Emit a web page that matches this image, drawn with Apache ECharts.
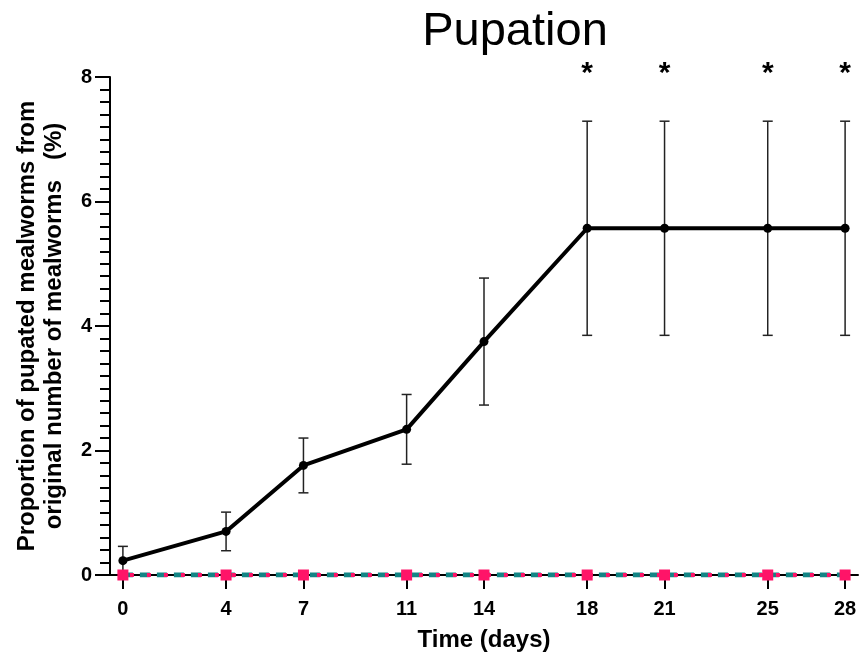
<!DOCTYPE html>
<html>
<head>
<meta charset="utf-8">
<script src="https://cdn.jsdelivr.net/npm/echarts@6/dist/echarts.min.js"></script>
<style>html,body{margin:0;padding:0;background:#fff}#c{width:864px;height:657px}</style>
</head>
<body>
<div id="c"></div>
<script>
const days = [0, 4, 7, 11, 14, 18, 21, 25, 28];
const pupationMean = [0.23, 0.70, 1.76, 2.34, 3.75, 5.57, 5.57, 5.57, 5.57];
const pupationErr = [0.23, 0.31, 0.44, 0.56, 1.02, 1.72, 1.72, 1.72, 1.72];
const controlA = [0, 0, 0, 0, 0, 0, 0, 0, 0];
const controlB = [0, 0, 0, 0, 0, 0, 0, 0, 0];
const starDays = [18, 21, 25, 28];
const starLevel = 8.12;
const yTicks = [0, 2, 4, 6, 8];

const FONT = '"Liberation Sans", Arial, sans-serif';
const chart = echarts.init(document.getElementById('c'), null, {renderer: 'canvas'});

const errData = days.map((d, i) => [d, pupationMean[i] - pupationErr[i], pupationMean[i] + pupationErr[i]]);

chart.setOption({
  animation: false,
  backgroundColor: '#fff',
  title: {
    text: 'Pupation',
    left: 510, top: 4, textAlign: 'center',
    textStyle: {fontFamily: FONT, fontSize: 47, fontWeight: 'normal', color: '#000'}
  },
  grid: {left: 110, right: 6, top: 77, bottom: 81, containLabel: false},
  xAxis: {
    type: 'value', min: -0.5, max: 28.5,
    name: 'Time (days)', nameLocation: 'middle', nameGap: 53,
    nameTextStyle: {fontFamily: FONT, fontSize: 24, fontWeight: 'bold', color: '#000', verticalAlign: 'top'},
    axisLine: {show: true, onZero: false, lineStyle: {color: '#000', width: 2}},
    axisTick: {show: true, length: 14, lineStyle: {color: '#000', width: 2}, customValues: days},
    axisLabel: {margin: 24, fontFamily: FONT, fontSize: 20, fontWeight: 'bold', color: '#000', customValues: days},
    splitLine: {show: false}
  },
  yAxis: {
    type: 'value', min: 0, max: 8, interval: 2,
    name: 'Proportion of pupated mealworms from\noriginal number of mealworms   (%)',
    nameLocation: 'middle', nameGap: 42,
    nameTextStyle: {fontFamily: FONT, fontSize: 24, fontWeight: 'bold', color: '#000', lineHeight: 27},
    axisLine: {show: true, onZero: false, lineStyle: {color: '#000', width: 2}},
    axisTick: {show: true, length: 15, lineStyle: {color: '#000', width: 2}},
    minorTick: {show: true, splitNumber: 10, length: 10, lineStyle: {color: '#000', width: 2}},
    axisLabel: {margin: 18, fontFamily: FONT, fontSize: 20, fontWeight: 'bold', color: '#000',
      customValues: yTicks},
    splitLine: {show: false}, minorSplitLine: {show: false}
  },
  series: [
    {
      type: 'custom', name: 'err', z: 3, clip: false,
      data: errData,
      renderItem: function (params, api) {
        const x = api.coord([api.value(0), 0])[0];
        const lo = api.coord([0, api.value(1)])[1];
        const hi = api.coord([0, api.value(2)])[1];
        const s = {stroke: '#222', lineWidth: 1.5};
        return {type: 'group', children: [
          {type: 'line', shape: {x1: x, y1: lo, x2: x, y2: hi}, style: s},
          {type: 'line', shape: {x1: x - 5, y1: hi, x2: x + 5, y2: hi}, style: s},
          {type: 'line', shape: {x1: x - 5, y1: lo, x2: x + 5, y2: lo}, style: s}
        ]};
      }
    },
    {
      type: 'line', name: 'control A', z: 4,
      data: days.map((d, i) => [d, controlA[i]]),
      symbol: 'none',
      lineStyle: {color: '#138585', width: 5, type: [10, 7]}
    },
    {
      type: 'line', name: 'control B', z: 5,
      data: days.map((d, i) => [d, controlB[i]]),
      symbol: 'rect', symbolSize: 11,
      itemStyle: {color: '#ff1468'},
      lineStyle: {color: '#ff1468', width: 4, type: [4, 13], dashOffset: 10}
    },
    {
      type: 'line', name: 'pupation', z: 6,
      data: days.map((d, i) => [d, pupationMean[i]]),
      symbol: 'circle', symbolSize: 9,
      itemStyle: {color: '#000'},
      lineStyle: {color: '#000', width: 4}
    },
    {
      type: 'custom', name: 'stars', z: 7, clip: false,
      data: starDays.map(d => [d, starLevel]),
      renderItem: function (params, api) {
        const p = api.coord([api.value(0), api.value(1)]);
        return {type: 'text', style: {text: '*', x: p[0], y: p[1] + 4, align: 'center', verticalAlign: 'middle',
          font: 'bold 30px ' + FONT, fill: '#000'}};
      }
    }
  ]
});
</script>
</body>
</html>
